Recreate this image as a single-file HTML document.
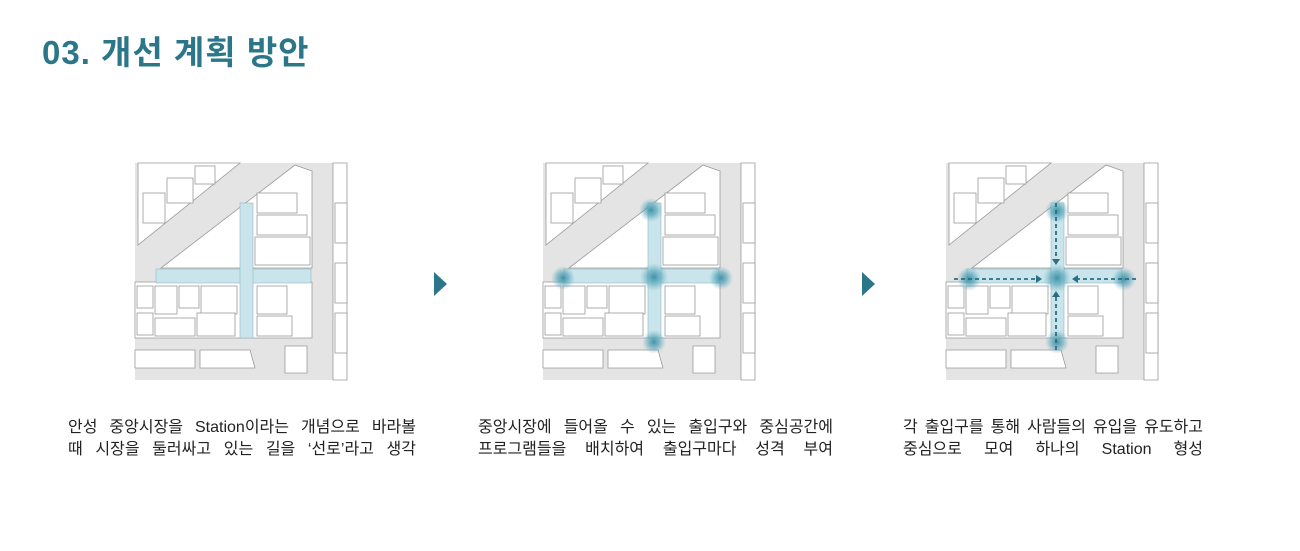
<!DOCTYPE html>
<html><head><meta charset="utf-8"><style>
body{margin:0;width:1300px;height:551px;background:#fff;overflow:hidden;position:relative;font-family:"Liberation Sans","Noto Sans CJK KR",sans-serif}
.t{position:absolute;left:42px;top:26px;font-size:33px;font-weight:bold;color:#2b7689;white-space:nowrap;letter-spacing:1px}
.c{position:absolute;top:417px;font-size:16px;line-height:22px;color:#222;text-align:justify;text-align-last:justify}
.c div{text-align-last:justify}
</style></head><body>
<div class="t">03. 개선 계획 방안</div>
<svg width="1300" height="551" style="position:absolute;left:0;top:0">
<defs>
<radialGradient id="g"><stop offset="0" stop-color="#2f8aa0" stop-opacity=".9"/><stop offset=".5" stop-color="#4fa0b5" stop-opacity=".6"/><stop offset="1" stop-color="#6fb4c6" stop-opacity="0"/></radialGradient>
<g id="map">
<rect x="0" y="0" width="212" height="217" fill="#e4e4e4"/>
<g fill="#fff" stroke="#9a9a9a" stroke-width=".8">
<polygon points="3,0 105,0 3,82"/>
<polygon points="26,105 160,2 177,8 177,105"/>
<polygon points="0,119 177,119 177,175 0,175"/>
<polygon points="198,0 212,0 212,217 198,217"/>
<polygon points="0,187 60,187 60,205 0,205"/>
<polygon points="65,187 115,187 120,205 65,205"/>
<polygon points="150,183 172,183 172,210 150,210"/>
<rect x="8" y="30" width="22" height="30"/><rect x="32" y="15" width="26" height="25"/><rect x="60" y="3" width="20" height="18"/>
<rect x="122" y="30" width="40" height="20"/><rect x="122" y="52" width="50" height="20"/><rect x="120" y="74" width="55" height="28"/>
<rect x="20" y="123" width="22" height="28"/><rect x="44" y="123" width="20" height="22"/><rect x="66" y="123" width="36" height="28"/>
<rect x="20" y="155" width="40" height="18"/><rect x="62" y="150" width="38" height="23"/><rect x="122" y="123" width="30" height="28"/><rect x="122" y="153" width="35" height="20"/>
<rect x="2" y="123" width="16" height="22"/><rect x="2" y="150" width="16" height="22"/>
<rect x="200" y="40" width="12" height="40"/><rect x="200" y="100" width="12" height="40"/><rect x="200" y="150" width="12" height="40"/>
</g>
</g>
<g id="cross" fill="#c9e4eb" stroke="#8fb9c4" stroke-width=".6">
<rect x="21" y="106" width="155" height="14"/><rect x="105" y="40" width="13" height="135"/>
</g>
</defs>
<g transform="translate(135,163)"><use href="#map"/><use href="#cross"/></g>
<g transform="translate(543,163)"><use href="#map"/><use href="#cross"/>
<circle cx="108" cy="47" r="12" fill="url(#g)"/><circle cx="111" cy="114" r="14" fill="url(#g)"/><circle cx="20" cy="115" r="12" fill="url(#g)"/><circle cx="178" cy="115" r="12" fill="url(#g)"/><circle cx="111" cy="179" r="12" fill="url(#g)"/></g>
<g transform="translate(946,163)"><use href="#map"/><use href="#cross"/>
<circle cx="111" cy="48" r="12" fill="url(#g)"/><circle cx="111" cy="115" r="14" fill="url(#g)"/><circle cx="23" cy="116" r="12" fill="url(#g)"/><circle cx="178" cy="116" r="12" fill="url(#g)"/><circle cx="111" cy="179" r="12" fill="url(#g)"/>
<g stroke="#2a6f80" stroke-width="1.8" stroke-dasharray="4,3" fill="none">
<line x1="110" y1="40" x2="110" y2="97"/><line x1="110" y1="134" x2="110" y2="190"/>
<line x1="8" y1="116" x2="92" y2="116"/><line x1="130" y1="116" x2="190" y2="116"/></g>
<g fill="#2a6f80"><polygon points="106,96 114,96 110,102"/><polygon points="106,134 114,134 110,128"/><polygon points="90,112 90,120 96,116"/><polygon points="132,112 132,120 126,116"/></g>
</g>
<polygon points="434,272 447,284 434,296" fill="#2b7689"/>
<polygon points="862,272 875,284 862,296" fill="#2b7689"/>
</svg>
<div class="c" style="left:68px;width:348px"><div>안성 중앙시장을 Station이라는 개념으로 바라볼</div><div>때 시장을 둘러싸고 있는 길을 ‘선로’라고 생각</div></div>
<div class="c" style="left:478px;width:355px"><div>중앙시장에 들어올 수 있는 출입구와 중심공간에</div><div>프로그램들을 배치하여 출입구마다 성격 부여</div></div>
<div class="c" style="left:903px;width:300px"><div>각 출입구를 통해 사람들의 유입을 유도하고</div><div>중심으로 모여 하나의 Station 형성</div></div>
</body></html>
